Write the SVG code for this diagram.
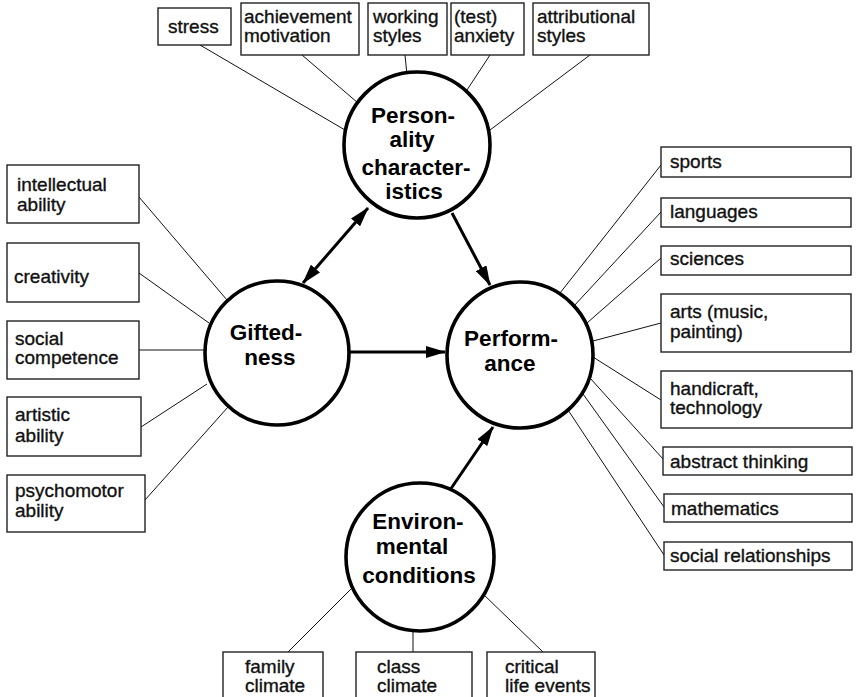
<svg xmlns="http://www.w3.org/2000/svg" width="857" height="697" viewBox="0 0 857 697">
<style>
.box{fill:#fff;stroke:#222;stroke-width:1.4}
.lbl{font-family:"Liberation Sans",Arial,sans-serif;font-size:19px;fill:#111;stroke:#111;stroke-width:0.35}
.big{font-family:"Liberation Sans",Arial,sans-serif;font-size:22.5px;font-weight:bold;fill:#000;text-anchor:middle}
.circ{fill:#fff;stroke:#000;stroke-width:3.6}
.thin{stroke:#111;stroke-width:1;fill:none}
.arr{stroke:#000;stroke-width:3;fill:none}
</style>
<defs>
<marker id="ah" viewBox="0 0 20 12" refX="19" refY="6" markerWidth="20" markerHeight="12" markerUnits="userSpaceOnUse" orient="auto-start-reverse">
<path d="M0,0 L20,6 L0,12 Z" fill="#000"/>
</marker>
</defs>
<rect width="857" height="697" fill="#fff"/>
<g id="connectors">
<line class="thin" x1="200" y1="45" x2="345" y2="130"/>
<line class="thin" x1="302" y1="55" x2="358" y2="103"/>
<line class="thin" x1="405" y1="55" x2="407" y2="75"/>
<line class="thin" x1="490" y1="55" x2="465" y2="93"/>
<line class="thin" x1="590" y1="55" x2="490" y2="130"/>
<line class="thin" x1="139" y1="197" x2="227" y2="300"/>
<line class="thin" x1="139" y1="273" x2="209" y2="323"/>
<line class="thin" x1="139" y1="350" x2="205" y2="350"/>
<line class="thin" x1="141" y1="427" x2="207" y2="384"/>
<line class="thin" x1="145" y1="500" x2="228" y2="407"/>
<line class="thin" x1="560" y1="293" x2="661" y2="165"/>
<line class="thin" x1="573" y1="307" x2="661" y2="212"/>
<line class="thin" x1="587" y1="323" x2="661" y2="258"/>
<line class="thin" x1="593" y1="341" x2="661" y2="323"/>
<line class="thin" x1="593" y1="357" x2="661" y2="400"/>
<line class="thin" x1="590" y1="378" x2="663" y2="459"/>
<line class="thin" x1="583" y1="394" x2="664" y2="507"/>
<line class="thin" x1="568" y1="410" x2="664" y2="555"/>
<line class="thin" x1="288" y1="652" x2="352" y2="588"/>
<line class="thin" x1="413" y1="630" x2="413" y2="652"/>
<line class="thin" x1="543" y1="652" x2="482" y2="593"/>
<line class="arr" x1="303" y1="283" x2="368" y2="208" marker-start="url(#ah)" marker-end="url(#ah)"/>
<line class="arr" x1="452" y1="213" x2="490" y2="285" marker-end="url(#ah)"/>
<line class="arr" x1="350" y1="352" x2="445" y2="352" marker-end="url(#ah)"/>
<line class="arr" x1="450" y1="490" x2="493" y2="427" marker-end="url(#ah)"/>
</g>
<g id="personality">
<circle class="circ" cx="417" cy="145" r="73"/>
<text class="big"><tspan x="413" y="123">Person-</tspan><tspan x="412" y="147">ality</tspan><tspan x="416" y="175">character-</tspan><tspan x="414" y="199">istics</tspan></text>
</g>
<g id="giftedness">
<circle class="circ" cx="277" cy="353" r="72"/>
<text class="big"><tspan x="266" y="340">Gifted-</tspan><tspan x="270" y="365">ness</tspan></text>
</g>
<g id="performance">
<circle class="circ" cx="520" cy="355" r="73"/>
<text class="big"><tspan x="511" y="346">Perform-</tspan><tspan x="510" y="371">ance</tspan></text>
</g>
<g id="environmental">
<circle class="circ" cx="420" cy="557" r="74"/>
<text class="big"><tspan x="418" y="529">Environ-</tspan><tspan x="412" y="554">mental</tspan><tspan x="419" y="583">conditions</tspan></text>
</g>
<g id="stress"><rect class="box" x="158" y="8" width="73" height="37"/><text class="lbl" x="168" y="33">stress</text></g>
<g id="achievement"><rect class="box" x="241" y="3" width="118" height="52"/><text class="lbl"><tspan x="244" y="23">achievement</tspan><tspan x="244" y="42">motivation</tspan></text></g>
<g id="working"><rect class="box" x="368" y="3" width="79" height="52"/><text class="lbl"><tspan x="373" y="23">working</tspan><tspan x="373" y="42">styles</tspan></text></g>
<g id="anxiety"><rect class="box" x="451" y="3" width="73" height="52"/><text class="lbl"><tspan x="454" y="23">(test)</tspan><tspan x="454" y="42">anxiety</tspan></text></g>
<g id="attributional"><rect class="box" x="533" y="3" width="116" height="52"/><text class="lbl"><tspan x="537" y="23">attributional</tspan><tspan x="537" y="42">styles</tspan></text></g>
<g id="intellectual"><rect class="box" x="7" y="165" width="132" height="58"/><text class="lbl"><tspan x="17" y="191">intellectual</tspan><tspan x="17" y="211">ability</tspan></text></g>
<g id="creativity"><rect class="box" x="7" y="243" width="132" height="59"/><text class="lbl" x="14" y="283">creativity</text></g>
<g id="social-competence"><rect class="box" x="7" y="321" width="132" height="58"/><text class="lbl"><tspan x="15" y="345">social</tspan><tspan x="15" y="364">competence</tspan></text></g>
<g id="artistic"><rect class="box" x="7" y="397" width="134" height="59"/><text class="lbl"><tspan x="15" y="421">artistic</tspan><tspan x="15" y="442">ability</tspan></text></g>
<g id="psychomotor"><rect class="box" x="7" y="475" width="138" height="57"/><text class="lbl"><tspan x="15" y="497">psychomotor</tspan><tspan x="15" y="517">ability</tspan></text></g>
<g id="sports"><rect class="box" x="661" y="147" width="190" height="30"/><text class="lbl" x="670" y="168">sports</text></g>
<g id="languages"><rect class="box" x="661" y="198" width="190" height="29"/><text class="lbl" x="670" y="218">languages</text></g>
<g id="sciences"><rect class="box" x="661" y="246" width="190" height="29"/><text class="lbl" x="670" y="265">sciences</text></g>
<g id="arts"><rect class="box" x="661" y="294" width="190" height="58"/><text class="lbl"><tspan x="670" y="318">arts (music,</tspan><tspan x="670" y="338">painting)</tspan></text></g>
<g id="handicraft"><rect class="box" x="661" y="371" width="191" height="57"/><text class="lbl"><tspan x="670" y="395">handicraft,</tspan><tspan x="670" y="414">technology</tspan></text></g>
<g id="abstract"><rect class="box" x="663" y="447" width="189" height="28"/><text class="lbl" x="670" y="468">abstract thinking</text></g>
<g id="mathematics"><rect class="box" x="664" y="494" width="188" height="28"/><text class="lbl" x="671" y="515">mathematics</text></g>
<g id="social-relationships"><rect class="box" x="664" y="542" width="188" height="28"/><text class="lbl" x="670" y="562">social relationships</text></g>
<g id="family"><rect class="box" x="223" y="652" width="100" height="60"/><text class="lbl"><tspan x="245" y="673">family</tspan><tspan x="245" y="692">climate</tspan></text></g>
<g id="class"><rect class="box" x="356" y="652" width="116" height="60"/><text class="lbl"><tspan x="377" y="673">class</tspan><tspan x="377" y="692">climate</tspan></text></g>
<g id="critical"><rect class="box" x="487" y="652" width="108" height="60"/><text class="lbl"><tspan x="505" y="673">critical</tspan><tspan x="505" y="692">life events</tspan></text></g>
</svg>
